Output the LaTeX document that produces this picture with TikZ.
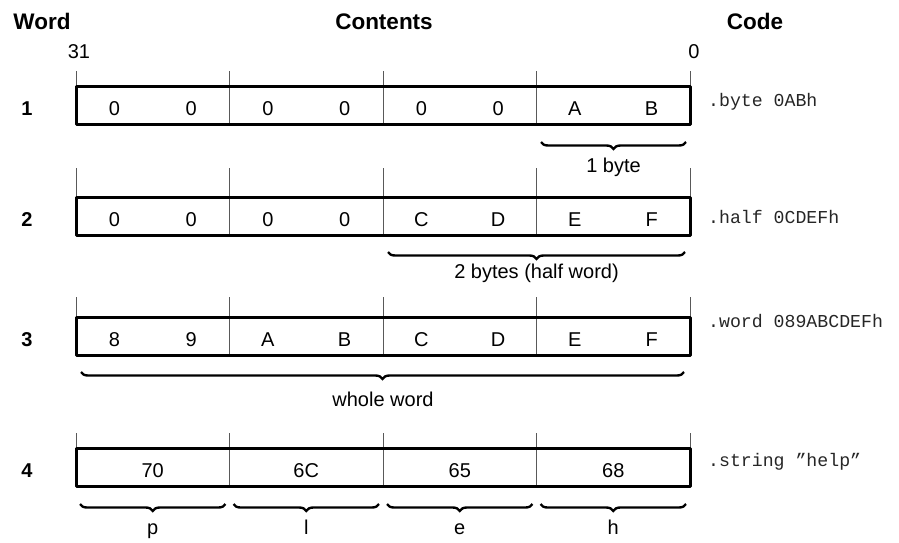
\documentclass[tikz,border=0pt]{standalone}
\usepackage{fontspec}
\setmainfont{Liberation Sans}
\setmonofont{Liberation Mono}
\usetikzlibrary{decorations.pathreplacing}
\newcommand*{\xMin}{76}
\newcommand*{\xMax}{690}
\newcommand*{\byteW}{153.5}
\newcommand*{\nibW}{76.75}
\newcommand*{\boxH}{38.5}
\tikzset{
  head/.style={font=\fontsize{22.5}{26}\selectfont\bfseries, anchor=base, inner sep=0pt},
  rownum/.style={font=\fontsize{20}{24}\selectfont\bfseries, anchor=base, inner sep=0pt},
  val/.style={font=\fontsize{20}{24}\selectfont, anchor=base, inner sep=0pt},
  src/.style={font=\fontsize{18.2}{22}\selectfont\ttfamily, anchor=base west, inner sep=0pt, black!85},
  wordbox/.style={line width=3pt, line join=round},
  divider/.style={line width=0.9pt, black!65},
  bytebrace/.style={decorate, decoration={brace, mirror, amplitude=7pt}, line width=2.4pt},
}

\begin{document}
\begin{tikzpicture}[x=1pt,y=-1pt]
	\useasboundingbox (0,0) rectangle (899,542);
	% headings
	\node[head] (word) at (42,29) {Word};
	\node[head] (contents) at (384,29) {Contents};
	\node[head] (code) at (755,29) {Code};
	\node[val] (msb) at (79,58) {31};
	\node[val] (lsb) at (694,58) {0};

	% boxes with byte lines
	\foreach \r/\top/\tick in {1/86/71, 2/197/168, 3/317/297, 4/448/433} {
	    \foreach \i in {0,...,4} {
	        \draw [divider] (\xMin+\i*\byteW,\tick) -- (\xMin+\i*\byteW,\top+\boxH);
	    }
	    \draw [wordbox] (\xMin,\top) rectangle (\xMax,\top+\boxH);
	    \node[rownum] (w\r) at (27,\top+29.5) {\r};
	}

	% contents
	\foreach \r/\top/\digits in {1/86/{0,0,0,0,0,0,A,B}, 2/197/{0,0,0,0,C,D,E,F}, 3/317/{8,9,A,B,C,D,E,F}} {
	    \foreach \d [count=\i] in \digits {
	        \node[val] (n\r-\i) at (\xMin+\i*\nibW-\nibW/2,\top+29.5) {\d};
	    }
	}
	\foreach \b [count=\i] in {70,6C,65,68} {
	    \node[val] (n4-\i) at (\xMin+\i*\byteW-\byteW/2,477.5) {\b};
	}

	% code
	\node[src] (src1) at (708,106) {.byte 0ABh};
	\node[src] (src2) at (708,223) {.half 0CDEFh};
	\node[src] (src3) at (708,327) {.word 089ABCDEFh};
	\node[src] (src4) at (708,466) {.string ”help”};

	% braces
	\coordinate (br1l) at (541,142);
	\coordinate (br1r) at (686,142);
	\draw [bytebrace] (br1l) -- (br1r);
	\node[val] (lab1) at (613.5,172) {1 byte};
	\coordinate (br2l) at (388,252);
	\coordinate (br2r) at (685,252);
	\draw [bytebrace] (br2l) -- (br2r);
	\node[val] (lab2) at (536.5,278) {2 bytes (half word)};
	\coordinate (br3l) at (81,372);
	\coordinate (br3r) at (684,372);
	\draw [bytebrace] (br3l) -- (br3r);
	\node[val] (lab3) at (383,406) {whole word};
	\foreach \c [count=\i] in {p,l,e,h} {
	    \coordinate (br4-\i l) at (\xMin+\i*\byteW-\byteW+4,504);
	    \coordinate (br4-\i r) at (\xMin+\i*\byteW-4,504);
	    \draw [bytebrace] (br4-\i l) -- (br4-\i r);
	    \node[val] (lab4-\i) at (\xMin+\i*\byteW-\byteW/2,534) {\c};
	}

\end{tikzpicture}
\end{document}
